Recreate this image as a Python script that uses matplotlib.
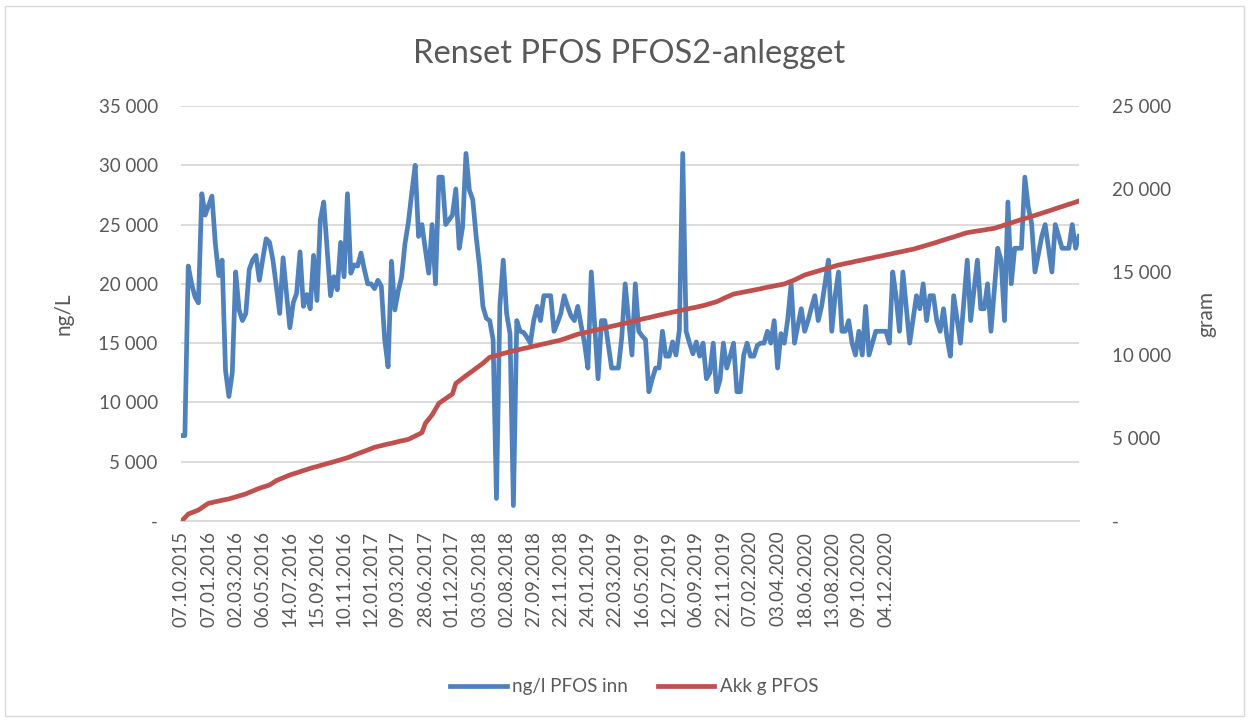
import numpy as np
import matplotlib
matplotlib.use("Agg")
import matplotlib.pyplot as plt
from matplotlib.patches import Rectangle
from matplotlib.ticker import FuncFormatter

plt.rcParams['font.family'] = ['Lato', 'DejaVu Sans']

# category labels (every 8th sample carries a date in the sheet)
tick_dates = ["07.10.2015", "07.01.2016", "02.03.2016", "06.05.2016", "14.07.2016",
              "15.09.2016", "10.11.2016", "12.01.2017", "09.03.2017", "28.06.2017",
              "01.12.2017", "03.05.2018", "02.08.2018", "27.09.2018", "22.11.2018",
              "24.01.2019", "22.03.2019", "16.05.2019", "12.07.2019", "06.09.2019",
              "22.11.2019", "07.02.2020", "03.04.2020", "18.06.2020", "13.08.2020",
              "09.10.2020", "04.12.2020"]
label_step = 8

# ng/l PFOS inn
pfos_inn = [
    7200, 7200, 21500, 20000, 18900, 18400, 27600, 25800, 26600, 27400,
    23400, 20700, 22000, 12700, 10500, 12500, 21000, 17800, 16900, 17500,
    21200, 22000, 22400, 20300, 22100, 23800, 23500, 22000, 19800, 17500,
    22200, 19200, 16300, 18400, 19200, 22700, 18100, 19100, 17900, 22400,
    18600, 25400, 26900, 23000, 19000, 20600, 19500, 23500, 20600, 27600,
    20900, 21600, 21500, 22600, 21200, 20000, 20000, 19600, 20300, 19800,
    15300, 13000, 21900, 17800, 19400, 20600, 23400, 25200, 27700, 30000,
    24000, 25000, 22900, 20900, 25000, 20000, 29000, 29000, 25000, 25400,
    25800, 28000, 23000, 24800, 31000, 27900, 27100, 24000, 21500, 18100,
    17100, 16900, 15300, 1900, 18100, 22000, 17500, 15800, 1300, 16900,
    16000, 15900, 15500, 15000, 16900, 18100, 16900, 19000, 19000, 19000,
    16000, 16700, 17500, 19000, 18100, 17300, 16900, 18100, 16500, 15000,
    12900, 21000, 16500, 12000, 16900, 16900, 14900, 12900, 12900, 12900,
    15500, 20000, 17000, 14000, 20000, 16000, 15600, 15300, 10900, 12000,
    12900, 12900, 16000, 13900, 13900, 15100, 14000, 16100, 31000, 16000,
    15000, 14100, 15100, 13900, 15000, 12000, 12500, 15000, 10900, 11900,
    15000, 12900, 13900, 15000, 10900, 10900, 14000, 15000, 13900, 13900,
    14800, 15000, 15000, 16000, 15000, 16900, 12900, 15800, 15000, 17000,
    20000, 15000, 16500, 17900, 16000, 16900, 18000, 19000, 16900, 18100,
    20000, 22000, 16000, 19000, 21000, 16000, 16000, 16900, 15000, 14000,
    16000, 14000, 18100, 14000, 15000, 16000, 16000, 16000, 16000, 15000,
    21000, 18900, 16000, 21000, 18000, 15000, 17000, 19000, 17900, 20000,
    16900, 19000, 19000, 16900, 16000, 17900, 15500, 13900, 19000, 17000,
    15000, 18500, 22000, 16900, 19500, 22000, 17900, 17900, 20000, 16000,
    19500, 23000, 22000, 16900, 26900, 20000, 23000, 23000, 23000, 29000,
    26500, 25100, 21000, 22500, 24000, 25000, 23000, 21000, 25000, 24000,
    23000, 23000, 23000, 25000, 23000, 24000]

# Akk g PFOS
akk_g = [
    0, 200, 420, 500, 580, 660, 800, 940, 1070, 1110,
    1160, 1200, 1250, 1290, 1330, 1390, 1450, 1510, 1570, 1630,
    1720, 1800, 1890, 1970, 2040, 2100, 2170, 2300, 2430, 2520,
    2600, 2690, 2770, 2840, 2900, 2970, 3040, 3100, 3170, 3230,
    3280, 3340, 3400, 3460, 3510, 3570, 3630, 3690, 3750, 3810,
    3890, 3970, 4050, 4130, 4200, 4280, 4360, 4440, 4490, 4540,
    4590, 4640, 4680, 4730, 4780, 4830, 4870, 4920, 5020, 5120,
    5220, 5320, 5880, 6130, 6390, 6740, 7090, 7230, 7370, 7510,
    7650, 8290, 8440, 8600, 8750, 8900, 9050, 9200, 9350, 9500,
    9680, 9860, 9920, 9970, 10030, 10090, 10140, 10200, 10250, 10290,
    10340, 10390, 10430, 10480, 10530, 10570, 10620, 10670, 10710, 10760,
    10810, 10850, 10900, 10970, 11040, 11110, 11180, 11250, 11300, 11340,
    11390, 11440, 11490, 11530, 11580, 11630, 11680, 11730, 11770, 11820,
    11870, 11910, 11960, 12010, 12060, 12110, 12160, 12210, 12250, 12300,
    12350, 12400, 12440, 12490, 12530, 12580, 12620, 12670, 12710, 12750,
    12800, 12840, 12880, 12930, 12970, 13030, 13090, 13150, 13210, 13300,
    13400, 13490, 13580, 13670, 13710, 13750, 13790, 13830, 13870, 13910,
    13950, 13990, 14040, 14080, 14120, 14160, 14200, 14240, 14280, 14360,
    14440, 14520, 14620, 14720, 14820, 14880, 14940, 15000, 15060, 15120,
    15180, 15240, 15300, 15360, 15420, 15460, 15510, 15550, 15590, 15640,
    15680, 15720, 15770, 15810, 15850, 15900, 15940, 15980, 16030, 16070,
    16110, 16160, 16200, 16240, 16290, 16330, 16370, 16430, 16490, 16550,
    16610, 16670, 16730, 16790, 16860, 16920, 16990, 17050, 17110, 17180,
    17240, 17310, 17370, 17400, 17440, 17470, 17500, 17530, 17570, 17600,
    17630, 17700, 17760, 17830, 17900, 17960, 18030, 18090, 18160, 18220,
    18280, 18350, 18410, 18480, 18540, 18610, 18670, 18740, 18810, 18880,
    18940, 19010, 19080, 19140, 19210, 19280]

BLUE = "#4f81bd"
RED = "#c0504d"
TXT = "#595959"
GRID = "#d9d9d9"


def excel_fmt(v, pos):
    '''Excel style thousands with space, zero shown as dash'''
    if abs(v) < 1e-9:
        return "-"
    return "{:,.0f}".format(v).replace(",", " ")


fig = plt.figure(figsize=(12.49, 7.2), dpi=100)
fig.patches.append(Rectangle((0.004, 0.006), 0.992, 0.986, transform=fig.transFigure,
                             fill=False, edgecolor=GRID, linewidth=1.0))

ax = fig.add_axes([0.1453, 0.2764, 0.7186, 0.5764])
ax2 = ax.twinx()

x = np.arange(len(pfos_inn))
l1, = ax.plot(x, pfos_inn, color=BLUE, linewidth=3.4, solid_joinstyle="round",
              label="ng/l PFOS inn", zorder=3)
l2, = ax2.plot(x, akk_g, color=RED, linewidth=3.4, solid_joinstyle="round",
               label="Akk g PFOS", zorder=3)

ax.set_xlim(0, len(pfos_inn) - 1)
ax.set_ylim(0, 35000)
ax2.set_ylim(0, 25000)
ax.set_yticks(np.arange(0, 35001, 5000))
ax2.set_yticks(np.arange(0, 25001, 5000))
ax.yaxis.set_major_formatter(FuncFormatter(excel_fmt))
ax2.yaxis.set_major_formatter(FuncFormatter(excel_fmt))

ax.set_xticks(np.arange(len(tick_dates)) * label_step)
ax.set_xticklabels(tick_dates, rotation=90)

ax.grid(axis="y", color=GRID, linewidth=1.3)
ax.set_axisbelow(True)
for a in (ax, ax2):
    for s in ("top", "left", "right"):
        a.spines[s].set_visible(False)
    a.spines["bottom"].set_color(GRID)
    a.spines["bottom"].set_linewidth(1.3)
    a.tick_params(length=0, labelsize=13.5, colors=TXT)
ax.tick_params(axis="y", pad=17)
ax2.tick_params(axis="y", pad=24)
ax.tick_params(axis="x", pad=7)

ax.set_ylabel("ng/L", fontsize=15, color=TXT, labelpad=18)
ax2.set_ylabel("gram", fontsize=15, color=TXT, labelpad=18)

fig.text(0.504, 0.925, "Renset PFOS PFOS2-anlegget", ha="center", va="center",
         fontsize=23.5, color=TXT)

fig.legend(handles=[l1, l2], loc="center", bbox_to_anchor=(0.508, 0.046), ncol=2,
           frameon=False, fontsize=13.5, handlelength=3.0, handletextpad=0.3,
           columnspacing=1.6, labelcolor=TXT)

plt.savefig("out.png", dpi=100)
